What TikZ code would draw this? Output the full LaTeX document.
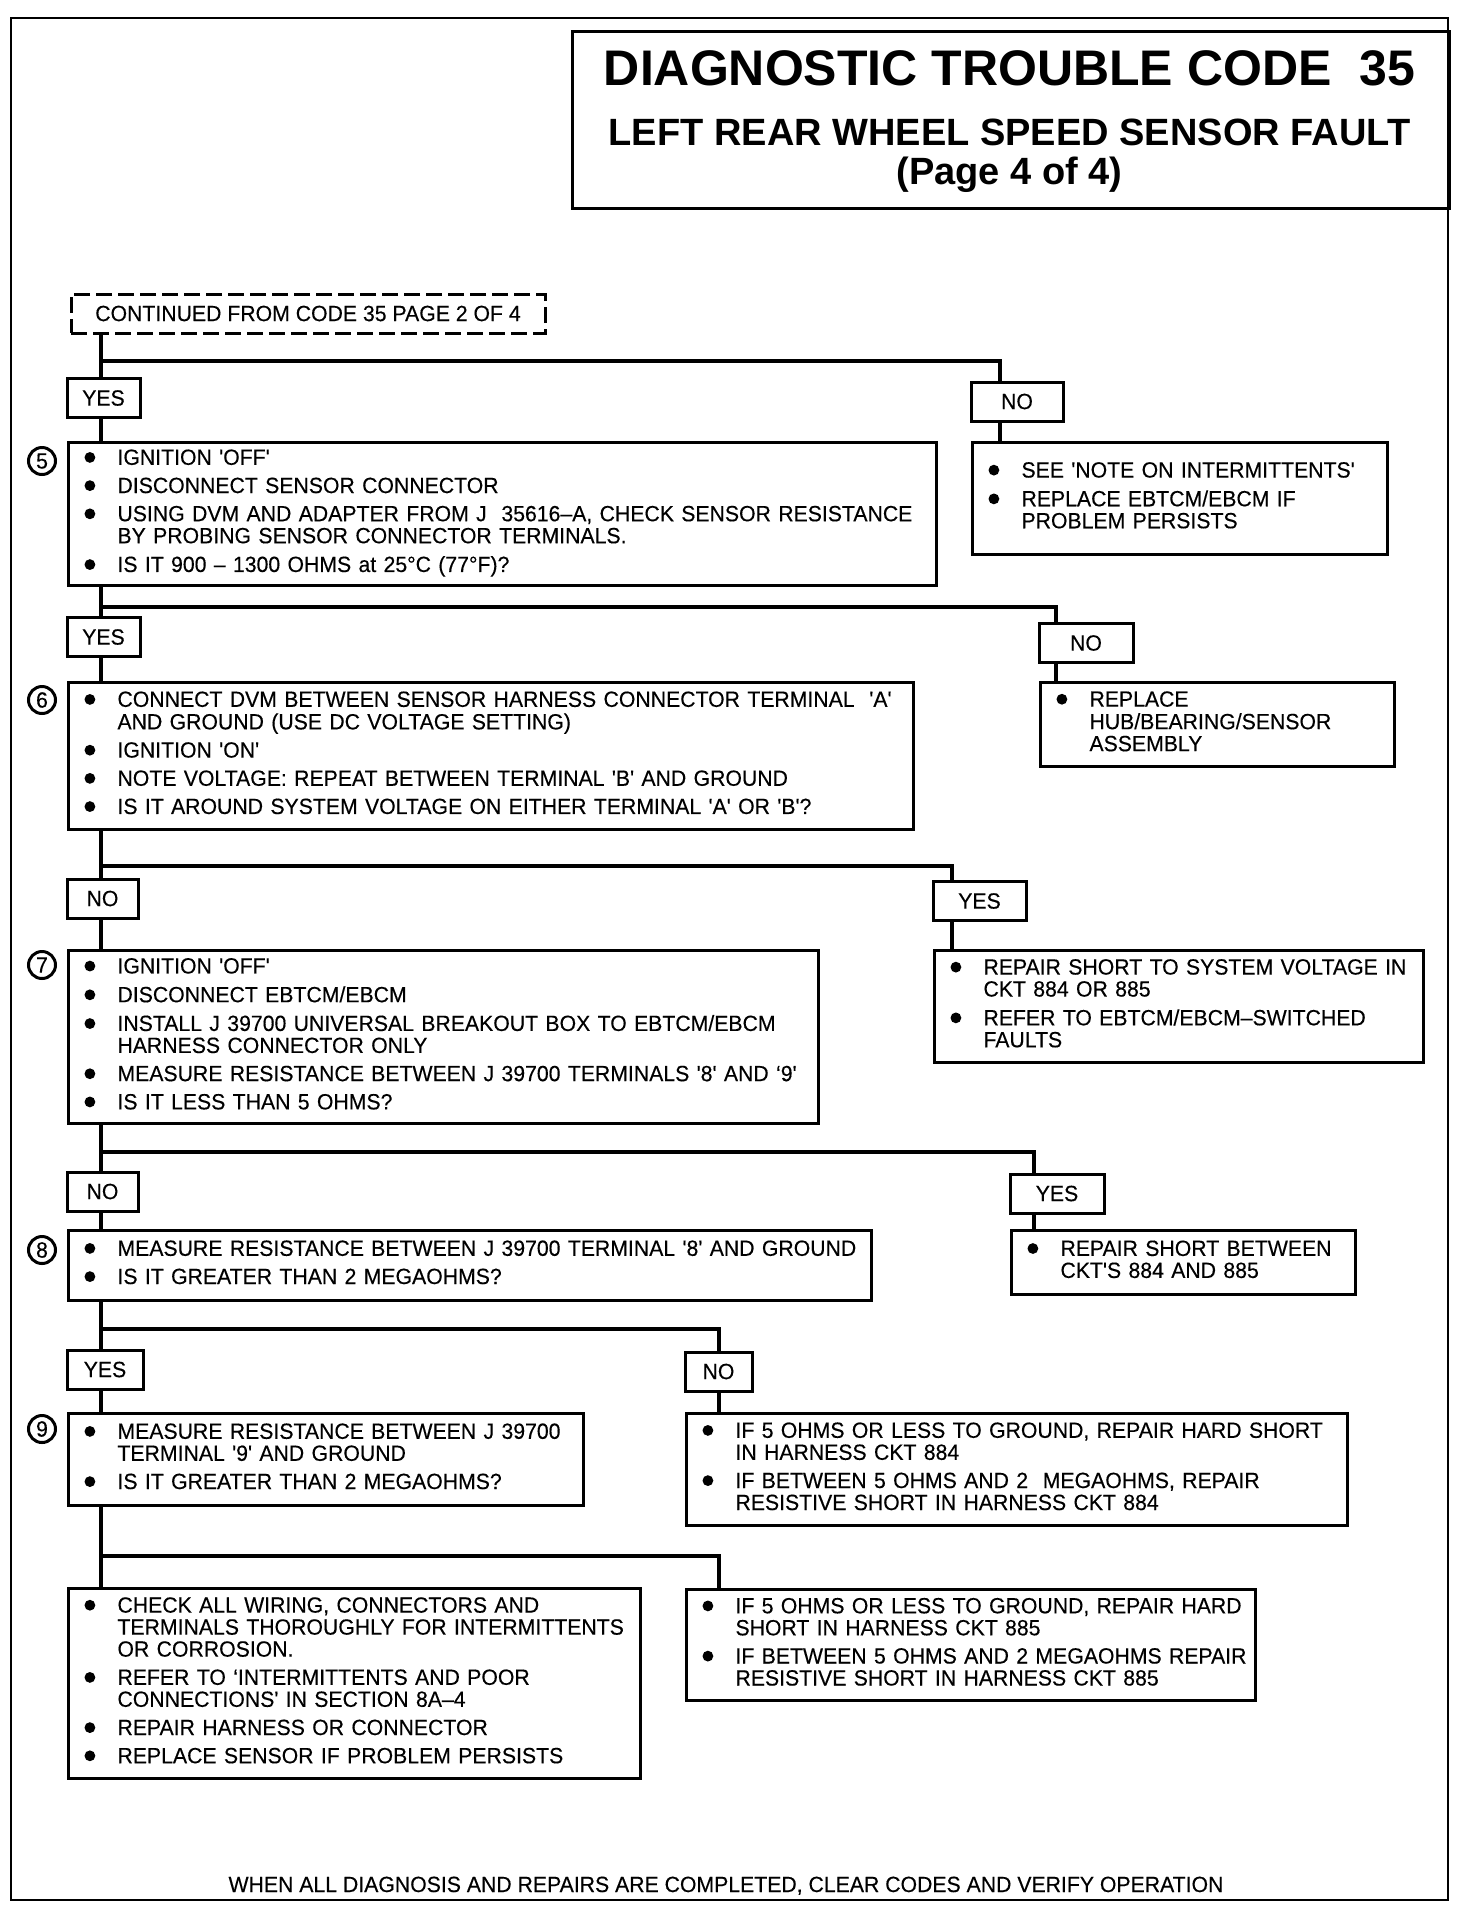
\documentclass[tikz,border=0pt]{standalone}
\usepackage{fontspec}
\usepackage{graphicx}
\setmainfont{Liberation Sans}[FakeStretch=0.965, FakeBold=0.3, Ligatures=TeXOff]
\newfontfamily\headfont{Liberation Sans}
\usetikzlibrary{positioning,shadows,backgrounds}

% one bullet item, lines split by \\
\newcommand{\dotmark}{\tikz[baseline=0pt, x=1pt, y=1pt]\fill (2.8,3.7) circle[radius=2.7pt];}
\newcommand{\itm}[1]{\noindent\makebox[16.5pt][l]{\dotmark}\begin{tabular}[t]{@{}l@{}}#1\end{tabular}\par}
\newcommand{\bodysize}{\fontsize{11}{11}\selectfont}

\tikzset{
  qbox/.style n args={2}{draw, fill=white, line width=1.5pt, anchor=north west,
    align=left, text width=#1, minimum height=#2, inner xsep=8pt, inner ysep=2pt,
    font=\bodysize,
    execute at begin node={\setlength{\lineskiplimit}{200pt}\setlength{\lineskip}{3.1pt}},
    drop shadow={shadow xshift=0.6pt, shadow yshift=-0.6pt, fill=black, opacity=1}},
  ans/.style={draw, fill=white, line width=1.5pt, minimum width=#1, minimum height=19.5pt,
    inner sep=0pt, font=\bodysize,
    drop shadow={shadow xshift=0.4pt, shadow yshift=-0.4pt, fill=black, opacity=1}},
  stepnum/.style={circle, draw, line width=1.5pt, minimum size=13.5pt, inner sep=0pt, font=\bodysize},
  cont/.style={draw, line width=1.5pt, dash pattern=on 8pt off 3pt, minimum width=237pt,
    minimum height=19.5pt, inner sep=0pt, font=\bodysize},
  trunk/.style={line width=2pt},
  branch/.style={line width=2.3pt, line join=miter},
}

\begin{document}
\begin{tikzpicture}[x=0.5pt, y=-0.5pt, line width=1.3pt]
  \useasboundingbox (0,0) rectangle (1472,1912);
  % frame and title
  \draw (11,18) rectangle (1448,1900);
  \node[draw, anchor=north west, minimum width=438.5pt, minimum height=88.5pt, inner sep=0pt] (tbox) at (571,30) {};
  \node[anchor=base, font={\headfont\bfseries\fontsize{25}{25}\selectfont}] (t1) at (1009.5,85) {DIAGNOSTIC TROUBLE CODE~~35};
  \node[anchor=base, font={\headfont\bfseries\fontsize{19}{19}\selectfont}] (t2) at (1009.5,145.5) {LEFT REAR WHEEL SPEED SENSOR FAULT};
  \node[anchor=base, font={\headfont\bfseries\fontsize{19}{19}\selectfont}] (t3) at (1009.5,184) {(Page 4 of 4)};
  \node[cont] (cont) at (308,313.5) {CONTINUED FROM CODE 35 PAGE 2 OF 4};

  % step boxes
  \node[qbox={418pt}{71.5pt}] (q5) at (67,441) {
    \itm{IGNITION 'OFF'}
    \itm{DISCONNECT SENSOR CONNECTOR}
    \itm{USING DVM AND ADAPTER FROM J~~35616–A, CHECK SENSOR RESISTANCE\\BY PROBING SENSOR CONNECTOR TERMINALS.}
    \itm{IS IT 900 – 1300 OHMS at 25°C (77°F)?}};
  \node[qbox={406.5pt}{73.5pt}] (q6) at (67,681) {
    \itm{CONNECT DVM BETWEEN SENSOR HARNESS CONNECTOR TERMINAL~~'A'\\AND GROUND (USE DC VOLTAGE SETTING)}
    \itm{IGNITION 'ON'}
    \itm{NOTE VOLTAGE: REPEAT BETWEEN TERMINAL 'B' AND GROUND}
    \itm{IS IT AROUND SYSTEM VOLTAGE ON EITHER TERMINAL 'A' OR 'B'?}};
  \node[qbox={359pt}{86.5pt}] (q7) at (67,949) {
    \itm{IGNITION 'OFF'}
    \itm{DISCONNECT EBTCM/EBCM}
    \itm{INSTALL J 39700 UNIVERSAL BREAKOUT BOX TO EBTCM/EBCM\\HARNESS CONNECTOR ONLY}
    \itm{MEASURE RESISTANCE BETWEEN J 39700 TERMINALS '8' AND ‘9'}
    \itm{IS IT LESS THAN 5 OHMS?}};
  \node[qbox={385.5pt}{35pt}] (q8) at (67,1229) {
    \itm{MEASURE RESISTANCE BETWEEN J 39700 TERMINAL '8' AND GROUND}
    \itm{IS IT GREATER THAN 2 MEGAOHMS?}};
  \node[qbox={241.5pt}{46pt}] (q9) at (67,1412) {
    \itm{MEASURE RESISTANCE BETWEEN J 39700\\TERMINAL '9' AND GROUND}
    \itm{IS IT GREATER THAN 2 MEGAOHMS?}};
  \node[qbox={270pt}{95pt}] (fin) at (67,1587) {
    \itm{CHECK ALL WIRING, CONNECTORS AND\\TERMINALS THOROUGHLY FOR INTERMITTENTS\\OR CORROSION.}
    \itm{REFER TO ‘INTERMITTENTS AND POOR\\CONNECTIONS' IN SECTION 8A–4}
    \itm{REPAIR HARNESS OR CONNECTOR}
    \itm{REPLACE SENSOR IF PROBLEM PERSISTS}};

  % result boxes
  \node[qbox={191.5pt}{56pt}] (r1) at (971,441) {
    \itm{SEE 'NOTE ON INTERMITTENTS'}
    \itm{REPLACE EBTCM/EBCM IF\\PROBLEM PERSISTS}};
  \node[qbox={161pt}{42pt}] (r2) at (1039,681) {
    \itm{REPLACE\\HUB/BEARING/SENSOR\\ASSEMBLY}};
  \node[qbox={228.5pt}{56pt}] (r3) at (933,949) {
    \itm{REPAIR SHORT TO SYSTEM VOLTAGE IN\\CKT 884 OR 885}
    \itm{REFER TO EBTCM/EBCM–SWITCHED\\FAULTS}};
  \node[qbox={156pt}{32pt}] (r4) at (1010,1229) {
    \itm{REPAIR SHORT BETWEEN\\CKT'S 884 AND 885}};
  \node[qbox={314.5pt}{56pt}] (r5) at (685,1412) {
    \itm{IF 5 OHMS OR LESS TO GROUND, REPAIR HARD SHORT\\IN HARNESS CKT 884}
    \itm{IF BETWEEN 5 OHMS AND 2~~MEGAOHMS, REPAIR\\RESISTIVE SHORT IN HARNESS CKT 884}};
  \node[qbox={268.5pt}{55.5pt}] (r6) at (685,1588) {
    \itm{IF 5 OHMS OR LESS TO GROUND, REPAIR HARD\\SHORT IN HARNESS CKT 885}
    \itm{IF BETWEEN 5 OHMS AND 2 MEGAOHMS REPAIR\\RESISTIVE SHORT IN HARNESS CKT 885}};

  % step numbers
  \node[stepnum] (n5) at (42,461) {5};
  \node[stepnum] (n6) at (42,700) {6};
  \node[stepnum] (n7) at (42,965) {7};
  \node[stepnum] (n8) at (42,1250) {8};
  \node[stepnum] (n9) at (42,1429) {9};

  % answers
  \node[ans=36.5pt] (y1) at (103.5,398) {YES};
  \node[ans=46pt] (no1) at (1017,401.5) {NO};
  \node[ans=36.5pt] (y2) at (103.5,637) {YES};
  \node[ans=47pt] (no2) at (1086,643) {NO};
  \node[ans=35.5pt] (no3) at (102.5,898.5) {NO};
  \node[ans=46.5pt] (y3) at (979.5,901) {YES};
  \node[ans=35.5pt] (no4) at (102.5,1191.5) {NO};
  \node[ans=47pt] (y4) at (1057,1193.5) {YES};
  \node[ans=38pt] (y5) at (105,1369.5) {YES};
  \node[ans=33.5pt] (no5) at (718.5,1371.5) {NO};

  \node[anchor=base, font=\bodysize] (foot) at (726,1892) {WHEN ALL DIAGNOSIS AND REPAIRS ARE COMPLETED, CLEAR CODES AND VERIFY OPERATION};

  % connectors
  \coordinate (tk) at (101,0);
  \coordinate (j1) at (1000,361);
  \coordinate (j2) at (1056,607);
  \coordinate (j3) at (952,866);
  \coordinate (j4) at (1034,1152);
  \coordinate (j5) at (719,1329);
  \coordinate (j6) at (719,1556);
  \begin{scope}[on background layer]
    \draw[trunk] (tk |- cont.south) -- (tk |- q5.north);
    \draw[trunk] (tk |- q5.south) -- (tk |- q6.north);
    \draw[trunk] (tk |- q6.south) -- (tk |- q7.north);
    \draw[trunk] (tk |- q7.south) -- (tk |- q8.north);
    \draw[trunk] (tk |- q8.south) -- (tk |- q9.north);
    \draw[trunk] (tk |- q9.south) -- (tk |- fin.north);
    \draw[branch] (tk |- j1) -- (j1) -- (j1 |- r1.north);
    \draw[branch] (tk |- j2) -- (j2) -- (j2 |- r2.north);
    \draw[branch] (tk |- j3) -- (j3) -- (j3 |- r3.north);
    \draw[branch] (tk |- j4) -- (j4) -- (j4 |- r4.north);
    \draw[branch] (tk |- j5) -- (j5) -- (j5 |- r5.north);
    \draw[branch] (tk |- j6) -- (j6) -- (j6 |- r6.north);
  \end{scope}
\end{tikzpicture}
\end{document}
